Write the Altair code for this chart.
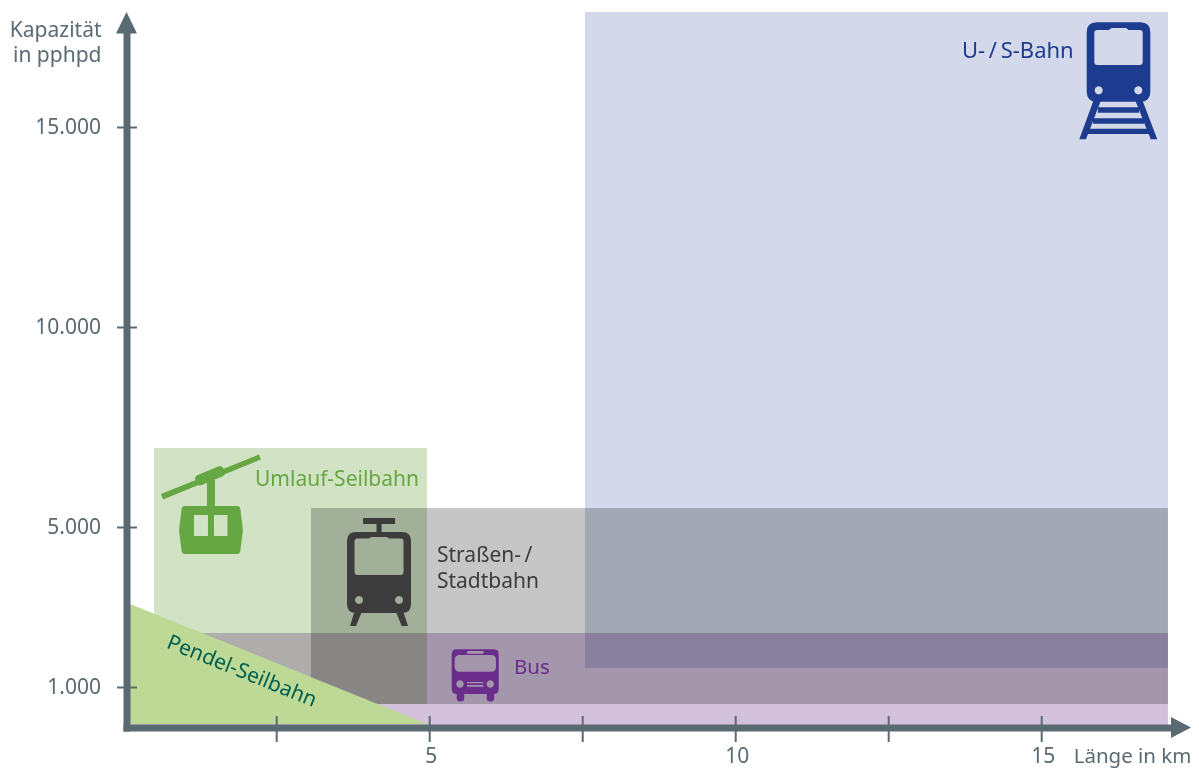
import math
import altair as alt
import pandas as pd

FONT = "Noto Sans"
AXIS = "#5a6a72"
FS = 21

# ---- data (km, capacity in pphpd) ----
rect_names = ["U- / S-Bahn", "Straßen- / Stadtbahn", "Umlauf-Seilbahn", "Bus"]
rect_x1 = [7.537, 3.060, 0.495, 0.119]
rect_x2 = [17.063, 17.063, 4.956, 17.063]
rect_y1 = [1490, 590, 590, 0]
rect_y2 = [17890, 5490, 6990, 2360]
rect_colors = ["#d3d8ea", "#c6c6c6", "#d2e3c5", "#d4c2dd"]

pendel_x = [0.103, 4.956]
pendel_y = [3090, 90]
pendel_base = [90, 90]

x_tick_values = [2.5, 5, 7.5, 10, 12.5, 15]
y_tick_values = [1000, 5000, 10000, 15000]
x_label_values = [5, 10, 15]

label_text = ["Umlauf-Seilbahn", "Straßen-\u2009/", "Stadtbahn", "Bus", "U-\u2009/\u2009S-Bahn"]
label_x = [2.145, 5.119, 5.119, 6.377, 13.698]
label_y = [6050, 4137, 3487, 1337, 16737]
label_colors = ["#66a743", "#3c3c3c", "#3c3c3c", "#6b2d8b", "#1d3c8f"]
label_sizes = [21, 21, 21, 20.5, 22]

# ---- scales ----
PX_KM, PX_CAP = 61.2, 0.04
x0 = 2.8 / PX_KM
x_dom = [x0, x0 + 1044.5 / PX_KM]
y_dom = [0, 694 / PX_CAP]
sx = alt.Scale(domain=x_dom, nice=False, zero=False)
sy = alt.Scale(domain=y_dom, nice=False, zero=False)

tick_style = dict(labelFont=FONT, labelFontSize=FS, labelColor=AXIS, titleFont=FONT,
                  titleColor=AXIS, titleFontWeight="normal", domainColor=AXIS, domainWidth=7, domainCap="square",
                  ticks=False, grid=False, zindex=1)
ax_x = alt.Axis(values=x_label_values, format="d", title="Länge in km", labelPadding=34.5, labelAngle=0, labelOffset=1,
                labelBaseline="alphabetic", titleFontSize=20.5,
                titleAlign="right", titleAnchor="start", titleX=1064.5, titleY=34.5, titleBaseline="alphabetic", **tick_style)
ax_y = alt.Axis(values=y_tick_values, labelExpr="replace(format(datum.value, ','), ',', '.')", labelPadding=26,
                title=["Kapazität", "in pphpd"], titleFontSize=FS, titleAngle=0, titleAlign="right", titleX=-25.5, titleY=2.5,
                titleBaseline="alphabetic", titleLineHeight=25, **tick_style)
X = alt.X("x:Q", scale=sx, axis=ax_x)
Y = alt.Y("y:Q", scale=sy, axis=ax_y)

# ---- icon glyphs: helpers build SVG symbol paths, in px around an anchor ----
def rpoly(pts, anchor, hole=False):
    pts = [p if len(p) == 3 else (p[0], p[1], 0) for p in pts]
    area = sum(pts[i][0] * pts[(i + 1) % len(pts)][1] - pts[(i + 1) % len(pts)][0] * pts[i][1] for i in range(len(pts)))
    if (area > 0) == hole:
        pts = pts[::-1]
    ax, ay = anchor
    out = []
    n = len(pts)
    for i in range(n):
        x, y, r = pts[i]
        px, py, _ = pts[i - 1]
        nx, ny, _ = pts[(i + 1) % n]
        if r:
            d1, d2 = math.hypot(px - x, py - y), math.hypot(nx - x, ny - y)
            a = (x + (px - x) * r / d1, y + (py - y) * r / d1)
            b = (x + (nx - x) * r / d2, y + (ny - y) * r / d2)
            out.append(f"{'M' if not out else 'L'}{a[0]-ax:.2f} {a[1]-ay:.2f}Q{x-ax:.2f} {y-ay:.2f} {b[0]-ax:.2f} {b[1]-ay:.2f}")
        else:
            out.append(f"{'M' if not out else 'L'}{x-ax:.2f} {y-ay:.2f}")
    return "".join(out) + "Z"

def rrect(x0_, y0_, x1_, y1_, r=0):
    return [(x0_, y0_, r), (x1_, y0_, r), (x1_, y1_, r), (x0_, y1_, r)]

def circle(cx, cy, r, n=24):
    return [(cx + r * math.cos(2 * math.pi * i / n), cy + r * math.sin(2 * math.pi * i / n)) for i in range(n)]

def window(x0_, y0_, x1_, y1_, bx0, bx1, bh, r=3):
    return [(x0_, y0_, r), (bx0 - 2, y0_), (bx0, y0_ - bh, 1), (bx1, y0_ - bh, 1), (bx1 + 2, y0_),
            (x1_, y0_, r), (x1_, y1_, r), (x0_, y1_, r)]

A = (211, 505)
gondola = "".join([
    rpoly([(161, 494), (259, 454.5), (261, 459.5), (163, 499.5)], A),
    rpoly([(194, 476.4, 4), (222, 464.9, 4), (226, 475.1, 4), (198, 486.6, 4)], A),
    rpoly(rrect(207, 480, 215, 507), A),
    rpoly([(182, 506, 3), (240, 506, 3), (243, 530, 2), (240, 554, 3), (182, 554, 3), (179, 530, 2)], A),
    rpoly(rrect(194, 515, 208, 536), A, hole=True),
    rpoly(rrect(214, 515, 227.5, 536), A, hole=True),
])
T = (379, 570)
tram = "".join([
    rpoly(rrect(363, 518, 395, 524), T),
    rpoly(rrect(376.5, 523, 381.5, 534), T),
    rpoly(rrect(347, 532, 411, 613, 9), T),
    rpoly(window(354.5, 538.5, 403.5, 575, 371, 387, 1.5), T, hole=True),
    rpoly(circle(359, 600, 4), T, hole=True),
    rpoly(circle(399, 600, 4), T, hole=True),
    rpoly([(354.3, 612), (361.7, 612), (356, 626), (350, 626)], T),
    rpoly([(396, 612), (403.4, 612), (408, 626), (401.7, 626)], T),
])
B = (475, 675)
bus = "".join([
    rpoly(rrect(451.7, 649.3, 498.7, 694, 5), B),
    rpoly(rrect(467, 651, 483.7, 653.7, 1), B, hole=True),
    rpoly(rrect(454.7, 655, 496, 671.7, 5), B, hole=True),
    rpoly(circle(460, 684, 3.7), B, hole=True),
    rpoly(circle(490.3, 684, 3.7), B, hole=True),
    rpoly(rrect(467, 682, 483.3, 683.3), B, hole=True),
    rpoly(rrect(467, 685, 483.3, 686.7), B, hole=True),
    rpoly(rrect(456.7, 692, 464.3, 701.5, 3.5), B),
    rpoly(rrect(486.7, 692, 494.3, 701.5, 3.5), B),
])
U = (1118.5, 80)
ubahn = "".join([
    rpoly(rrect(1086.7, 22.3, 1150.3, 101.7, 10), U),
    rpoly(window(1094.3, 30, 1142.7, 65, 1111, 1126.5, 2), U, hole=True),
    rpoly(circle(1098.7, 90.3, 4), U, hole=True),
    rpoly(circle(1138.3, 90.3, 4), U, hole=True),
    rpoly([(1093.3, 101), (1100.7, 101), (1086, 139.3), (1079.3, 139.3)], U),
    rpoly([(1135.5, 101), (1142.7, 101), (1157.3, 139.3), (1150.7, 139.3)], U),
    rpoly(rrect(1098, 107.3, 1139, 112.7), U),
    rpoly(rrect(1093, 118.3, 1144, 123.7), U),
    rpoly(rrect(1088, 128.7, 1149, 134), U),
])
arrow_up = rpoly([(126.5, 12.5), (137, 34), (116, 34)], (126.5, 34))
arrow_right = rpoly([(1191, 727.5), (1171, 717), (1171, 738)], (1171, 727.5))

icon_shapes = [gondola, tram, bus, ubahn, arrow_up, arrow_right]
icon_x = [1.426, 4.172, 5.740, 16.255, x_dom[0], x_dom[1]]
icon_y = [5562.5, 3937.5, 1312.5, 16187.5, y_dom[1], 0]
icon_colors = ["#66a743", "#3c3c3c", "#6b2d8b", "#1d3c8f", AXIS, AXIS]

# ---- layers ----
layers = []
for n, a, b, c, d, col in zip(rect_names, rect_x1, rect_x2, rect_y1, rect_y2, rect_colors):
    layers.append(
        alt.Chart(pd.DataFrame({"x": [a], "x2": [b], "y": [c], "y2": [d]}))
        .mark_rect(color=col, blend="multiply", clip=False)
        .encode(x=X, x2="x2:Q", y=Y, y2="y2:Q")
    )

layers.append(
    alt.Chart(pd.DataFrame({"x": pendel_x, "y": pendel_y, "y2": pendel_base}))
    .mark_area(color="#bdd995", opacity=1)
    .encode(x=X, y=Y, y2="y2:Q")
)

layers.append(
    alt.Chart(pd.DataFrame({"x": x_tick_values, "y": [-362] * 6, "y2": [287] * 6}))
    .mark_rule(color=AXIS, strokeWidth=2)
    .encode(x=X, y=Y, y2="y2:Q")
)
layers.append(
    alt.Chart(pd.DataFrame({"y": y_tick_values, "x": [-0.109] * 4, "x2": [0.217] * 4}))
    .mark_rule(color=AXIS, strokeWidth=2)
    .encode(x=X, x2="x2:Q", y=Y)
)

for s, a, b, col in zip(icon_shapes, icon_x, icon_y, icon_colors):
    layers.append(
        alt.Chart(pd.DataFrame({"x": [a], "y": [b]}))
        .mark_point(shape=s, size=4, filled=True, color=col, opacity=1, strokeWidth=0)
        .encode(x=X, y=Y)
    )

for t, a, b, col, fs in zip(label_text, label_x, label_y, label_colors, label_sizes):
    layers.append(
        alt.Chart(pd.DataFrame({"x": [a], "y": [b], "t": [t]}))
        .mark_text(font=FONT, fontSize=fs, color=col, align="left", baseline="alphabetic")
        .encode(x=X, y=Y, text="t:N")
    )
layers.append(
    alt.Chart(pd.DataFrame({"x": [1.928], "y": [1395], "t": ["Pendel-Seilbahn"]}))
    .mark_text(font=FONT, fontSize=FS, color="#005f50", align="center", baseline="middle", angle=22)
    .encode(x=X, y=Y, text="t:N")
)

chart = (
    alt.layer(*layers)
    .properties(width=1044.5, height=694, background="white",
                padding={"left": 118.5, "top": 25.5, "right": 20, "bottom": 40.5},
                autosize=alt.AutoSizeParams(type="none"))
    .configure_view(stroke=None)
)
chart.save("out.html", embed_options={"renderer": "svg", "actions": False})
